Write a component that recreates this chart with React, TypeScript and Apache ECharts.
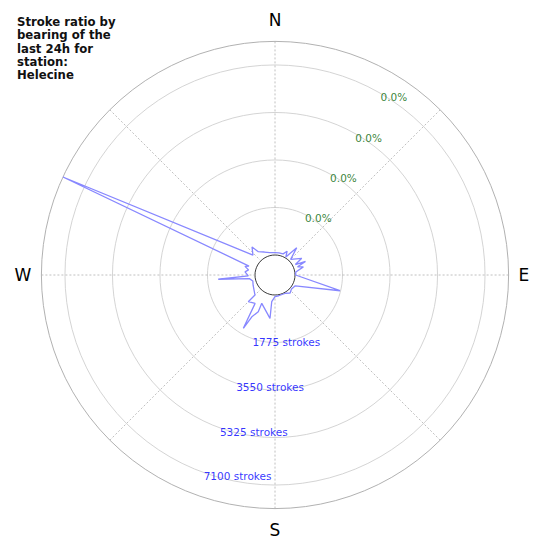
import React, { useRef, useEffect } from 'react';
import * as echarts from 'echarts';

// polygon points in drawing order (bearing in degrees from north, clockwise)
const bearings = [
  0, 10, 21, 27, 31, 38.5, 45, 58, 63, 66, 70, 74, 82, 90, 103.6, 118, 130, 140, 150, 170,
  180, 187, 186.6, 205, 204.5, 209, 210.7, 215, 225, 225, 245, 255, 262, 265.7, 268, 276,
  281, 286, 289, 294.8, 312, 320.6, 324.4, 335, 347, 360,
];
const strokes = [
  86, 93, 97, 250, 40, 557, 80, 430, 110, 500, 150, 355, 40, 20, 1752, 110, 60, 130, 40, 40,
  64, 258, 882, 422, 760, 1038, 1570, 548, 665, 310, 155, 110, 220, 1380, 250, 380,
  260, 420, 280, 7980, 360, 605, 325, 200, 108, 86,
];

const strokeTicks = [1775, 3550, 5325, 7100];
const percentLabels = ['0.0%', '0.0%', '0.0%', '0.0%'];
const compass: Record<number, string> = { 0: 'N', 90: 'E', 180: 'S', 270: 'W' };

const titleText = 'Stroke ratio by\nbearing of the\nlast 24h for\nstation:\nHelecine';

const FONT = 'DejaVu Sans';

const App: React.FC = () => {
  const chartRef = useRef<HTMLDivElement>(null);

  useEffect(() => {
    if (!chartRef.current) return;
    const chart = echarts.init(chartRef.current, undefined, { renderer: 'svg' });
    const maxStrokes = Math.max(...strokes);

    chart.setOption({
      animation: false,
      backgroundColor: '#fff',
      title: {
        text: titleText,
        left: 17,
        top: 15.5,
        padding: 0,
        textStyle: {
          fontSize: 11.7,
          fontWeight: 'bold',
          fontFamily: FONT,
          lineHeight: 13.3,
          color: '#111',
        },
      },
      polar: {
        center: ['50%', '50%'],
        radius: [20, 233.6],
      },
      angleAxis: {
        type: 'value',
        min: 0,
        max: 360,
        interval: 45,
        startAngle: 90,
        clockwise: true,
        axisLine: { show: false },
        axisTick: { show: false },
        axisLabel: {
          margin: 10,
          fontSize: 17,
          lineHeight: 23,
          fontFamily: FONT,
          color: '#000',
          formatter: (v: number) => compass[v] || '',
        },
        splitLine: {
          show: true,
          lineStyle: { color: '#b0b0b0', width: 0.8, type: [2, 2] },
        },
      },
      radiusAxis: {
        type: 'value',
        min: 0,
        max: maxStrokes,
        interval: 1775,
        axisLine: { show: false },
        axisTick: { show: false },
        axisLabel: { show: false },
        splitLine: {
          show: true,
          lineStyle: {
            color: ['#222', '#cfcfcf', '#cfcfcf', '#cfcfcf', '#cfcfcf', '#a8a8a8'],
            width: 0.9,
          },
        },
      },
      series: [
        {
          type: 'line',
          coordinateSystem: 'polar',
          data: bearings.map((b, i) => [strokes[i], b]),
          symbol: 'none',
          lineStyle: { color: '#8888ff', width: 1.3 },
          silent: true,
        },
        {
          type: 'scatter',
          coordinateSystem: 'polar',
          data: strokeTicks.map((v) => [v, 200]),
          symbolSize: 1,
          itemStyle: { color: 'transparent' },
          silent: true,
          label: {
            show: true,
            position: 'right',
            distance: 0,
            offset: [0, 4],
            fontSize: 10.5,
            fontFamily: FONT,
            color: '#0000ff',
            formatter: (p: any) => `${p.value[0]} strokes`,
          },
        },
        {
          type: 'scatter',
          coordinateSystem: 'polar',
          data: strokeTicks.map((v) => [v, 32]),
          symbolSize: 1,
          itemStyle: { color: 'transparent' },
          silent: true,
          label: {
            show: true,
            position: 'inside',
            offset: [7.5, 0.5],
            fontSize: 10.5,
            fontFamily: FONT,
            color: '#006400',
            formatter: (p: any) => percentLabels[p.dataIndex],
          },
        },
      ],
    });

    return () => {
      chart.dispose();
    };
  }, []);

  return (
    <div
      ref={chartRef}
      style={{ position: 'fixed', left: 0, top: 0, width: 550, height: 550 }}
    />
  );
};

export default App;
